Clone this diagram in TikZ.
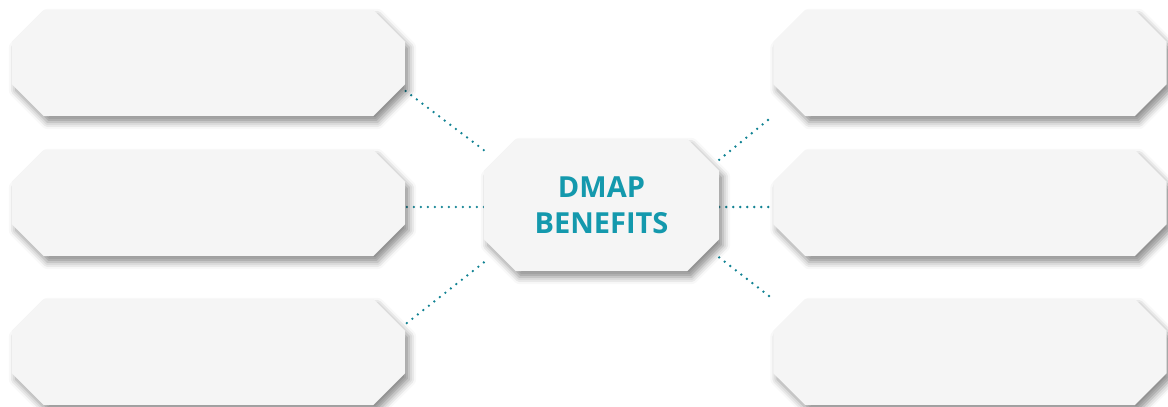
\documentclass[tikz,border=0pt]{standalone}
\usepackage{fontspec}
\setmainfont{Open Sans}
\usepackage{xcolor}
\usetikzlibrary{shadows.blur}
\definecolor{dmapteal}{HTML}{1499AD}
\definecolor{boxgray}{HTML}{F5F5F5}
\pgfdeclarelayer{fundo}
\pgfdeclarelayer{caixas}
\pgfsetlayers{fundo,caixas,main}
\tikzset{
  caixa/.style={inner sep=0pt, minimum width=393pt, minimum height=106pt},
  sombra/.style={blur shadow={shadow xshift=4pt, shadow yshift=-6pt,
      shadow blur radius=7pt, shadow opacity=45}},
  link/.style={dmapteal!85!black, line width=2.6pt, line cap=round,
    dash pattern=on 0pt off 7pt},
}
% caixa chanfrada sobre o no #1
\newcommand{\chanfro}[1]{%
  \begin{pgfonlayer}{caixas}
  \fill[boxgray, sombra]
    ([xshift=32pt]#1.north west) -- ([xshift=-32pt]#1.north east)
    -- ([yshift=-32pt]#1.north east) -- ([yshift=32pt]#1.south east)
    -- ([xshift=-32pt]#1.south east) -- ([xshift=32pt]#1.south west)
    -- ([yshift=32pt]#1.south west) -- ([yshift=-32pt]#1.north west)
    -- cycle;
  \end{pgfonlayer}}

\begin{document}
\begin{tikzpicture}[x=1pt,y=-1pt]
			\useasboundingbox (0,0) rectangle (1168,407);
			
			%% caixas da esquerda
			\node[caixa] (L1) at (208.5,63) {};
			\node[caixa] (L2) at (208.5,203) {};
			\node[caixa] (L3) at (208.5,352) {};
			
			%% caixas da direita
			\node[caixa] (R1) at (970,63) {};
			\node[caixa] (R2) at (970,203) {};
			\node[caixa] (R3) at (970,352) {};
			
			%% centro
			\node[caixa, minimum width=235pt, minimum height=132pt,
			text=dmapteal, align=center,
			font=\bfseries\fontsize{29}{36}\selectfont] (C) at (601.5,205)
			{DMAP\\BENEFITS};
			
			\foreach \n in {L1,L2,L3,R1,R2,R3,C}
			\chanfro{\n};
			
			%% ligações
			\begin{pgfonlayer}{fundo}
				\draw[link] (C.155) -- (L1.-8);
				\draw[link] ([yshift=-2pt]C.west) -- ([yshift=-2pt]C.west -| L2.east);
				\draw[link] (C.206) -- (L3.8);
				\draw[link] (C.21) -- (R1.195);
				\draw[link] ([yshift=-2pt]C.east) -- ([yshift=-2pt]C.east -| R2.west);
				\draw[link] (C.-24) -- (R3.165);
			\end{pgfonlayer}
		\end{tikzpicture}
\end{document}
